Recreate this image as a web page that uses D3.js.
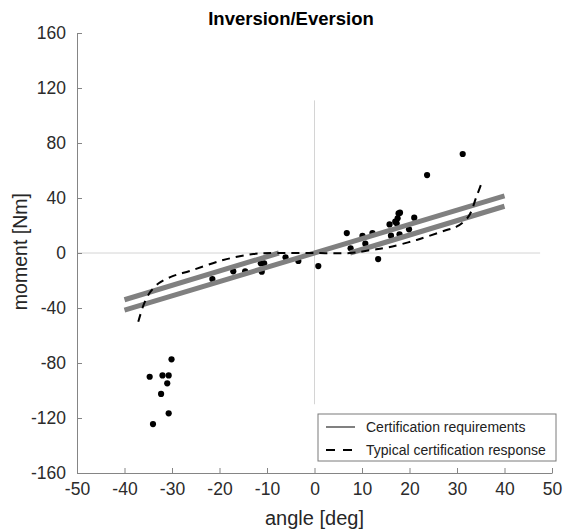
<!DOCTYPE html>
<html>
<head>
<meta charset="utf-8">
<script src="https://cdn.jsdelivr.net/npm/d3@7"></script>
<style>
  body { margin: 0; background: #fff; }
  text { font-family: "Liberation Sans", Arial, sans-serif; }
</style>
</head>
<body>
<svg></svg>
<script>
var width = 564;
var height = 531;

// ticks
var xTicks = [-50, -40, -30, -20, -10, 0, 10, 20, 30, 40, 50];
var yTicks = [-160, -120, -80, -40, 0, 40, 80, 120, 160];

// certification requirement band (three straight segments)
var certA = [{x: -40, y: -41.5}, {x: 40, y: 41.5}];
var certLeft = [{x: -40, y: -34}, {x: -7.5, y: 0}];
var certRight = [{x: 7.5, y: 0}, {x: 40, y: 34}];

// typical certification response (dashed)
var respX = [-37.1, -35.9, -34.6, -32.8, -30, -26.2, -19.2, -12.9, -8, 0, 7.5, 12, 15.5, 21.5, 27.8, 29.9, 32.4, 34.1, 35.3];
var respY = [-50, -37, -28.5, -22, -17, -13, -5.1, -0.7, 0, 0, 0, 2.2, 4.1, 9.5, 16.7, 19.1, 26.4, 41, 52];

// measured points
var ptX = [-30.1, -34.7, -32, -30.7, -31, -32.3, -30.7, -34,
           -21.5, -17.1, -14.6, -11.3, -10.6, -11.1, -6.1, -3.4, 0.8,
           6.8, 7.6, 10.7, 10.1, 12.2, 13.4, 16.1, 15.8, 17, 17.5, 17.7, 18, 17.3, 17.9, 19.9, 21, 23.7, 31.2];
var ptY = [-77.3, -90, -89, -89, -94.8, -102.5, -116.6, -124.4,
           -18.9, -13.3, -13.3, -7.5, -7.5, -13.6, -3.1, -5.8, -9.5,
           14.5, 3.4, 6.8, 12.4, 14.5, -4.4, 12.6, 20.8, 22.8, 25.2, 28.8, 29.3, 21.6, 13.6, 17.2, 25.7, 56.7, 72];

var svg = d3.select('svg')
    .attr('width', width)
    .attr('height', height);

var x = d3.scaleLinear().domain([-50, 50]).range([77, 552]);
var y = d3.scaleLinear().domain([-160, 160]).range([473, 33]);

var axisColor = '#858585';
var plain = function(d) { return String(d); };  // hyphen minus, like the reference

// zero reference lines
svg.append('line')
    .attr('x1', x(-50)).attr('x2', x(47.5))
    .attr('y1', y(0)).attr('y2', y(0))
    .attr('stroke', '#d4d4d4').attr('stroke-width', 1);
svg.append('line')
    .attr('x1', x(0)).attr('x2', x(0))
    .attr('y1', y(111)).attr('y2', y(-110))
    .attr('stroke', '#d4d4d4').attr('stroke-width', 1);

// axes (MATLAB style, ticks pointing in)
var gx = svg.append('g')
    .attr('transform', 'translate(0,' + y(-160) + ')')
    .call(d3.axisBottom(x).tickValues(xTicks).tickFormat(plain).tickSizeInner(-5).tickSizeOuter(0).tickPadding(10));
var gy = svg.append('g')
    .attr('transform', 'translate(' + x(-50) + ',0)')
    .call(d3.axisLeft(y).tickValues(yTicks).tickFormat(plain).tickSizeInner(-5).tickSizeOuter(0).tickPadding(11));

[gx, gy].forEach(function(g) {
  g.select('.domain').attr('stroke', axisColor);
  g.selectAll('.tick line').attr('stroke', axisColor);
  g.selectAll('.tick text')
      .attr('fill', '#2b2b2b')
      .style('font-size', '17.5px')
      .style('font-family', '"Liberation Sans", Arial, sans-serif');
});

var line = d3.line()
    .x(function(d) { return x(d.x); })
    .y(function(d) { return y(d.y); });

// dots
var pts = ptX.map(function(v, i) { return {x: v, y: ptY[i]}; });
svg.append('g').selectAll('circle')
    .data(pts)
    .enter()
    .append('circle')
    .attr('cx', function(d) { return x(d.x); })
    .attr('cy', function(d) { return y(d.y); })
    .attr('r', 3.1)
    .attr('fill', '#000');

// certification band
[certA, certLeft, certRight].forEach(function(seg) {
  svg.append('path')
      .attr('d', line(seg))
      .attr('fill', 'none')
      .attr('stroke', '#808080')
      .attr('stroke-width', 5);
});

// typical response
var resp = respX.map(function(v, i) { return {x: v, y: respY[i]}; });
svg.append('path')
    .attr('d', line.curve(d3.curveCatmullRom.alpha(0.5))(resp))
    .attr('fill', 'none')
    .attr('stroke', '#000')
    .attr('stroke-width', 2)
    .attr('stroke-dasharray', '8,6');

// title + labels
svg.append('text')
    .attr('x', 291).attr('y', 25)
    .attr('text-anchor', 'middle')
    .style('font-size', '18.5px')
    .style('font-weight', 'bold')
    .text('Inversion/Eversion');

svg.append('text')
    .attr('x', x(0)).attr('y', 525)
    .attr('text-anchor', 'middle')
    .attr('fill', '#262626')
    .style('font-size', '20px')
    .text('angle [deg]');

svg.append('text')
    .attr('transform', 'translate(27,' + y(1) + ') rotate(-90)')
    .attr('text-anchor', 'middle')
    .attr('fill', '#262626')
    .style('font-size', '19.5px')
    .text('moment [Nm]');

// legend
var lg = svg.append('g').attr('transform', 'translate(318,414)');
lg.append('rect')
    .attr('width', 238).attr('height', 47)
    .attr('fill', '#fff')
    .attr('stroke', '#7a7a7a');
lg.append('line')
    .attr('x1', 8).attr('x2', 37).attr('y1', 13).attr('y2', 13)
    .attr('stroke', '#808080').attr('stroke-width', 2);
lg.append('line')
    .attr('x1', 8).attr('x2', 37).attr('y1', 36).attr('y2', 36)
    .attr('stroke', '#000').attr('stroke-width', 2)
    .attr('stroke-dasharray', '9,8');
lg.append('text')
    .attr('x', 48).attr('y', 18)
    .attr('fill', '#222')
    .style('font-size', '14px')
    .text('Certification requirements');
lg.append('text')
    .attr('x', 48).attr('y', 41)
    .attr('fill', '#222')
    .style('font-size', '14px')
    .text('Typical certification response');
</script>
</body>
</html>
